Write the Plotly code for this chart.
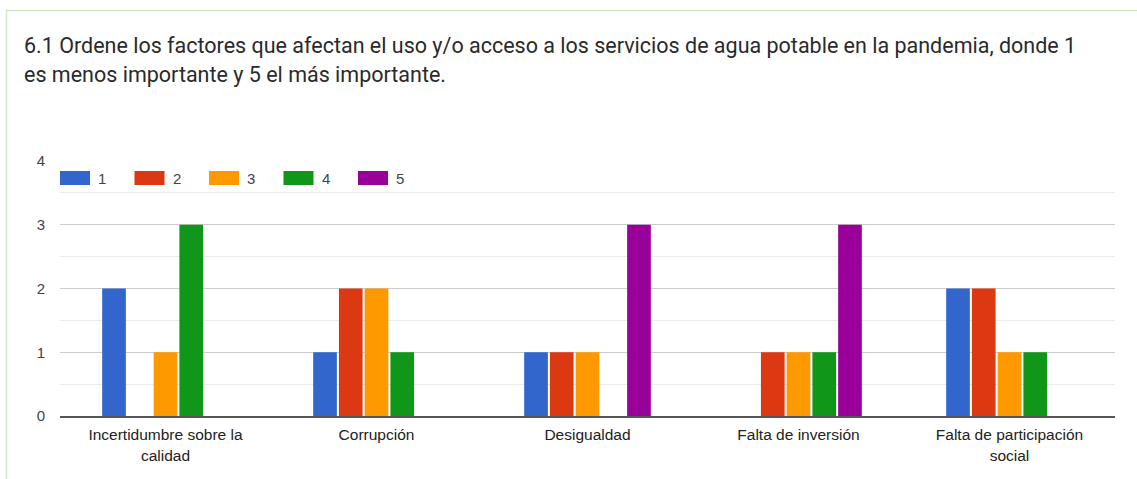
import plotly.graph_objects as go

# Survey results: count of responses per ranking (1 = least, 5 = most important)
categories = [
    "Incertidumbre sobre la<br>calidad",
    "Corrupción",
    "Desigualdad",
    "Falta de inversión",
    "Falta de participación<br>social",
]
rank_labels = ["1", "2", "3", "4", "5"]
rank_1 = [2, 1, 1, 0, 2]
rank_2 = [0, 2, 1, 1, 2]
rank_3 = [1, 2, 1, 1, 1]
rank_4 = [3, 1, 0, 1, 1]
rank_5 = [0, 0, 3, 3, 0]
series = [rank_1, rank_2, rank_3, rank_4, rank_5]
colors = ["#3366cc", "#dc3912", "#ff9900", "#109618", "#990099"]
y_ticks = [0, 1, 2, 3, 4]
title_lines = [
    "6.1 Ordene los factores que afectan el uso y/o acceso a los servicios de agua potable en la pandemia, donde 1",
    "es menos importante y 5 el más importante.",
]

W, H = 1137, 479
ML, MR, MT, MB = 60, 22, 161, 63
plot_w = W - ML - MR
plot_h = H - MT - MB


def px_x(px):
    return (px - ML) / plot_w


def px_y(py):
    return 1 - (py - MT) / plot_h


fig = go.Figure()
for name, vals, col in zip(rank_labels, series, colors):
    fig.add_trace(go.Bar(
        name=name, x=categories, y=vals,
        marker=dict(color=col, line=dict(width=0)),
    ))

# Card outline around the question
shapes = [dict(
    type="rect", xref="paper", yref="paper",
    x0=px_x(6.5), x1=px_x(W + 50), y0=px_y(H + 50), y1=px_y(10.5),
    line=dict(color="#d3e6c6", width=1.5), fillcolor="rgba(0,0,0,0)", layer="below",
)]

# Legend with wide swatches, laid out along the top of the plot area
annotations = []
leg_y = px_y(178)
for i, (name, col) in enumerate(zip(rank_labels, colors)):
    left = ML + i * 74.5
    shapes.append(dict(
        type="rect", xref="paper", yref="paper",
        x0=px_x(left), x1=px_x(left + 30), y0=px_y(185), y1=px_y(171),
        fillcolor=col, line=dict(width=0),
    ))
    annotations.append(dict(
        xref="paper", yref="paper", x=px_x(left + 36), y=leg_y,
        text=name, showarrow=False, xanchor="left", yanchor="middle",
        font=dict(family="Arial, Liberation Sans, sans-serif", size=15, color="#444444"),
    ))

for line, cy in zip(title_lines, [45, 75]):
    annotations.append(dict(
        xref="paper", yref="paper", x=px_x(22), y=px_y(cy),
        text=line, showarrow=False, xanchor="left", yanchor="middle", align="left",
        font=dict(family="Roboto, sans-serif", size=21.5, color="#2a2a2a"),
    ))

fig.update_layout(
    width=W, height=H,
    margin=dict(l=ML, r=MR, t=MT, b=MB),
    paper_bgcolor="white", plot_bgcolor="white",
    barmode="group", bargap=0.39, bargroupgap=0.08,
    showlegend=False,
    shapes=shapes, annotations=annotations,
    font=dict(family="Arial, Liberation Sans, sans-serif", size=15, color="#444444"),
)
fig.update_xaxes(
    showgrid=False, showline=True, linecolor="#555555", linewidth=1.5,
    ticks="", tickfont=dict(size=15.5, color="#222222"), ticklabelstandoff=4,
    fixedrange=True,
)
fig.update_yaxes(
    range=[0, 4], tickvals=y_ticks, showgrid=True, gridcolor="#cccccc", gridwidth=1,
    minor=dict(dtick=0.5, showgrid=True, gridcolor="#ebebeb", gridwidth=1),
    zeroline=False, showline=False, ticks="", ticklabelstandoff=14,
    tickfont=dict(size=15, color="#444444"), fixedrange=True,
)

fig.write_html("out.html")
